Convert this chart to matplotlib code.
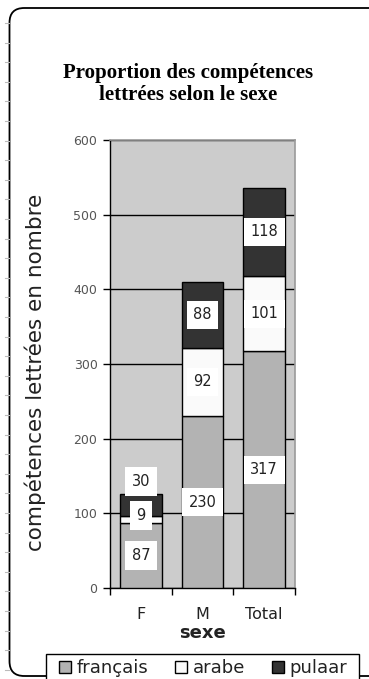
import matplotlib
matplotlib.use("Agg")
import matplotlib.pyplot as plt
from matplotlib.patches import FancyBboxPatch, Patch, Rectangle
from matplotlib.lines import Line2D
import numpy as np

categories = ["F", "M", "Total"]
series_names = ["français", "arabe", "pulaar"]
francais = [87, 230, 317]
arabe = [9, 92, 101]
pulaar = [30, 88, 118]
yticks = [0, 100, 200, 300, 400, 500, 600]

colors = ["#b3b3b3", "#fafafa", "#333333"]

W, H = 369, 679
fig = plt.figure(figsize=(W / 100, H / 100), dpi=100)
fig.patch.set_facecolor("white")

# rounded frame (right and bottom edges run off the canvas)
frame = FancyBboxPatch((9.5 / W, 3 / H), 375 / W, 668 / H,
                       boxstyle="round,pad=0,rounding_size=0.04",
                       transform=fig.transFigure, facecolor="none",
                       edgecolor="black", linewidth=1.3, mutation_aspect=W / H)
fig.patches.append(frame)

# faint ruler ticks at the left edge
for yy in np.arange(23, 679, 19.6):
    fig.add_artist(Line2D([5 / W, 9 / W], [1 - yy / H, 1 - yy / H],
                          transform=fig.transFigure, color="#bbbbbb", lw=0.8))

ax = fig.add_axes([110 / W, 1 - 588 / H, 185 / W, 448 / H])
ax.set_facecolor("#cccccc")

x = np.arange(len(categories))
width = 0.68
data = [francais, arabe, pulaar]
bottoms = np.zeros(len(categories))
# label offsets (points) for the small F segments
label_offsets = {(0, 1): 3, (0, 2): 17}
for si, vals in enumerate(data):
    vals = np.array(vals, dtype=float)
    ax.bar(x, vals, width, bottom=bottoms, color=colors[si],
           edgecolor="black", linewidth=1.0, zorder=3)
    for ci in range(len(categories)):
        yc = bottoms[ci] + vals[ci] / 2
        off = label_offsets.get((ci, si), 0)
        ax.annotate(f"{int(vals[ci])}", (x[ci], yc), xytext=(0, off),
                    textcoords="offset points", ha="center", va="center",
                    fontsize=10.5, color="#222222", zorder=5,
                    bbox=dict(boxstyle="square,pad=0.45", facecolor="white",
                              edgecolor="none"))
    bottoms = bottoms + vals

ax.set_xlim(-0.5, 2.5)
ax.set_ylim(0, 600)
ax.set_yticks(yticks)
ax.set_yticklabels([str(t) for t in yticks], fontsize=9, color="#555555")
ax.yaxis.grid(True, color="black", linewidth=1.0)
ax.set_axisbelow(True)

ax.set_xticks([-0.5, 0.5, 1.5, 2.5])
ax.set_xticklabels([])
ax.set_xticks(x, minor=True)
ax.set_xticklabels(categories, minor=True, fontsize=11.5, color="#222222")
ax.tick_params(axis="x", which="major", direction="out", length=5, width=1)
ax.tick_params(axis="x", which="minor", length=0, pad=14)
ax.tick_params(axis="y", direction="out", length=5, width=1, pad=4)

for s in ["top", "right"]:
    ax.spines[s].set_color("#9a9a9a")
    ax.spines[s].set_linewidth(1.2)
for s in ["left", "bottom"]:
    ax.spines[s].set_color("black")
    ax.spines[s].set_linewidth(1.0)

ax.set_xlabel("sexe", fontsize=13, color="#222222", labelpad=1,
              fontweight="bold")
ax.set_ylabel("compétences lettrées en nombre", fontsize=15.5, color="#222222")
ax.yaxis.set_label_coords((46 - 110) / 185, (588 - 372) / 448,
                          transform=ax.transAxes)

fig.text(188 / W, 1 - 84 / H, "Proportion des compétences\nlettrées selon le sexe",
         ha="center", va="center", fontsize=15, fontweight="bold",
         family="Liberation Serif", linespacing=1.12)

# legend box
box = Rectangle((46 / W, -5 / H), 313 / W, (679 - 654 + 5) / H,
                transform=fig.transFigure, facecolor="white",
                edgecolor="black", linewidth=1.0)
fig.patches.append(box)

handles = [Patch(facecolor=c, edgecolor="black", linewidth=1.0) for c in colors]
leg = fig.legend(handles, series_names, loc="center",
                 bbox_to_anchor=(203 / W, 1 - 668 / H), ncol=3, fontsize=13,
                 frameon=False, handlelength=0.65, handleheight=0.65,
                 handletextpad=0.3, columnspacing=1.5, borderpad=0,
                 borderaxespad=0)
for t in leg.get_texts():
    t.set_color("#222222")

fig.savefig("out.png", dpi=100)
